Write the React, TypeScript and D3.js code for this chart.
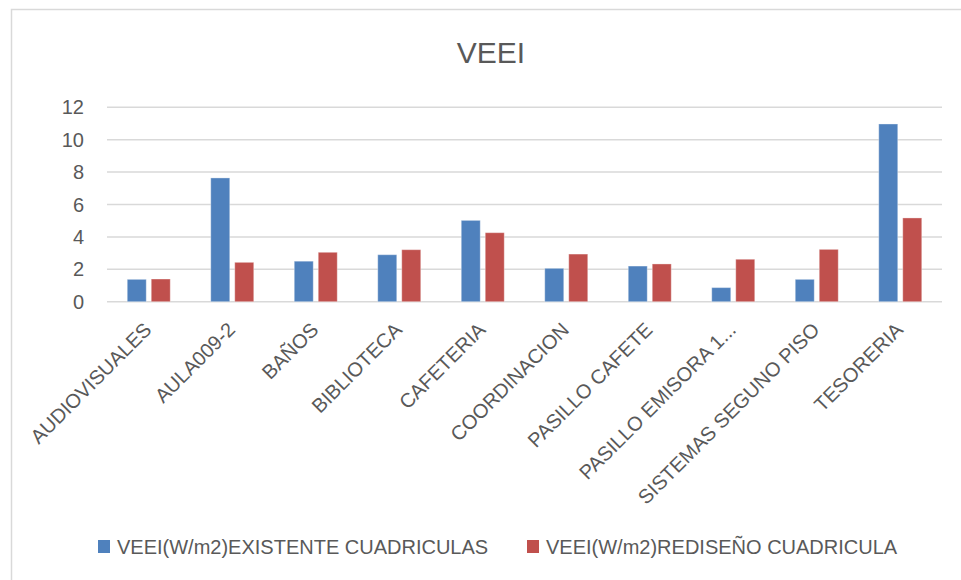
import React from "react";
import * as d3 from "d3";

const categories = [
  "AUDIOVISUALES",
  "AULA009-2",
  "BAÑOS",
  "BIBLIOTECA",
  "CAFETERIA",
  "COORDINACION",
  "PASILLO CAFETE",
  "PASILLO EMISORA 1...",
  "SISTEMAS SEGUNO PISO",
  "TESORERIA",
];
const seriesNames = [
  "VEEI(W/m2)EXISTENTE CUADRICULAS",
  "VEEI(W/m2)REDISEÑO CUADRICULA",
];
const existente = [1.38, 7.64, 2.5, 2.9, 5.02, 2.06, 2.2, 0.87, 1.38, 10.97];
const rediseno = [1.4, 2.43, 3.05, 3.21, 4.26, 2.94, 2.33, 2.62, 3.23, 5.17];
const yTicks = [0, 2, 4, 6, 8, 10, 12];
const colors = ["#4F81BD", "#C0504D"];

const W = 961;
const H = 580;
const font = "'Liberation Sans', Arial, sans-serif";
const textColor = "#595959";

export default function App() {
  const left = 107;
  const right = 942;
  const top = 107.3;
  const bottom = 301.7;

  const x = d3.scaleBand<string>().domain(categories).range([left, right]);
  const x1 = d3
    .scaleBand<string>()
    .domain(seriesNames)
    .range([-21.5, 21.5])
    .paddingInner(0.2083);
  const y = d3.scaleLinear().domain([0, 12]).range([bottom, top]);

  const values = [existente, rediseno];

  return (
    <svg
      width={W}
      height={H}
      style={{ position: "absolute", left: 0, top: 0, background: "#fff" }}
      fontFamily={font}
    >
      <rect x={11.5} y={9.5} width={980} height={620} fill="#fff" stroke="#D9D9D9" strokeWidth={1.5} />

      <text x={491} y={63} textAnchor="middle" fontSize={30} fill={textColor}>
        VEEI
      </text>

      {yTicks.map((t) => (
        <g key={t}>
          <line x1={left} x2={right} y1={y(t)} y2={y(t)} stroke="#D9D9D9" strokeWidth={1.5} />
          <text x={84} y={y(t) + 7} textAnchor="end" fontSize={20} fill={textColor}>
            {t}
          </text>
        </g>
      ))}

      {categories.map((c, i) => {
        const cx = (x(c) as number) + x.bandwidth() / 2;
        return (
          <g key={c}>
            {seriesNames.map((s, k) => {
              const v = values[k][i];
              return (
                <rect
                  key={s}
                  x={cx + (x1(s) as number)}
                  y={y(v)}
                  width={x1.bandwidth()}
                  height={y(0) - y(v)}
                  fill={colors[k]}
                  stroke="#fff"
                  strokeOpacity={0.35}
                  strokeWidth={1}
                />
              );
            })}
            <text
              transform={`translate(${cx + 4},${331}) rotate(-45)`}
              textAnchor="end"
              fontSize={20}
              fill={textColor}
            >
              {c}
            </text>
          </g>
        );
      })}

      {seriesNames.map((s, k) => {
        const lx = k === 0 ? 98 : 527;
        return (
          <g key={s}>
            <rect x={lx} y={540} width={12} height={13} fill={colors[k]} />
            <text x={lx + 19} y={554} fontSize={20} fill={textColor}>
              {s}
            </text>
          </g>
        );
      })}
    </svg>
  );
}
